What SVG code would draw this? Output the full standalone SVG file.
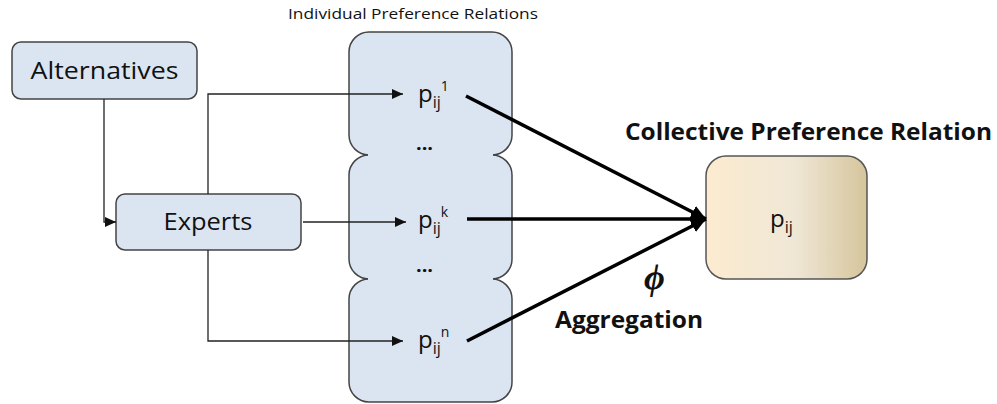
<svg xmlns="http://www.w3.org/2000/svg" width="997" height="404" viewBox="0 0 997 404">
<style>
.box{fill:#dbe5f1;stroke:#444;stroke-width:1.5}
.t{font-family:"Open Sans","Liberation Sans",sans-serif;fill:#111}
.b{font-family:"Open Sans","Liberation Sans",sans-serif;font-weight:bold;fill:#111}
.thin{fill:none;stroke:#222;stroke-width:1.3}
.thick{fill:none;stroke:#000;stroke-width:3.5}
</style>
<defs>
<marker id="a" markerUnits="userSpaceOnUse" markerWidth="12" markerHeight="10" refX="11" refY="5" orient="auto">
<path d="M0,0 L11,5 L0,10 Z" fill="#111"/>
</marker>
<marker id="A" markerUnits="userSpaceOnUse" markerWidth="16" markerHeight="14" refX="15" refY="7" orient="auto">
<path d="M0,0 L15,7 L0,14 Z" fill="#000"/>
</marker>
<linearGradient id="g" x1="0" y1="0" x2="1" y2="0">
<stop offset="0" stop-color="#fcebcf"/>
<stop offset="0.55" stop-color="#efe7d6"/>
<stop offset="1" stop-color="#d6c59c"/>
</linearGradient>
</defs>
<text class="t" x="288" y="19" font-size="14" textLength="250" lengthAdjust="spacingAndGlyphs">Individual Preference Relations</text>
<g id="alternatives">
<rect class="box" x="12" y="42" width="185" height="57" rx="9"/>
<text class="t" x="104.5" y="79" font-size="24" text-anchor="middle" textLength="148" lengthAdjust="spacingAndGlyphs">Alternatives</text>
</g>
<g id="experts">
<rect class="box" x="116" y="194" width="185" height="56" rx="9"/>
<text class="t" x="208" y="230" font-size="24" text-anchor="middle" textLength="89" lengthAdjust="spacingAndGlyphs">Experts</text>
</g>
<g id="individual">
<rect class="box" x="349" y="32" width="163" height="123" rx="20"/>
<rect class="box" x="349" y="155" width="163" height="124" rx="20"/>
<rect class="box" x="349" y="279" width="163" height="123" rx="20"/>
<rect x="368" y="146" width="125" height="18" fill="#dbe5f1"/>
<rect x="368" y="270" width="125" height="18" fill="#dbe5f1"/>
<text class="t" x="418" y="102" font-size="24">p<tspan font-size="16" dy="6">ij</tspan><tspan font-size="14" dy="-17">1</tspan></text>
<text class="t" x="416" y="150" font-size="18" font-weight="bold" textLength="17" lengthAdjust="spacingAndGlyphs">...</text>
<text class="t" x="418" y="228" font-size="24">p<tspan font-size="16" dy="6">ij</tspan><tspan font-size="14" dy="-17">k</tspan></text>
<text class="t" x="416" y="272" font-size="18" font-weight="bold" textLength="17" lengthAdjust="spacingAndGlyphs">...</text>
<text class="t" x="418" y="348" font-size="24">p<tspan font-size="16" dy="6">ij</tspan><tspan font-size="14" dy="-17">n</tspan></text>
</g>
<g id="collective">
<text class="b" x="625" y="140" font-size="23" textLength="367" lengthAdjust="spacingAndGlyphs">Collective Preference Relation</text>
<rect x="706" y="156" width="161" height="123" rx="20" fill="url(#g)" stroke="#555" stroke-width="1.5"/>
<text class="t" x="770" y="227" font-size="24">p<tspan font-size="16" dy="6">ij</tspan></text>
</g>
<g id="labels">
<text x="644" y="289" font-family="Liberation Serif,serif" font-style="italic" font-weight="bold" font-size="36" fill="#111">ϕ</text>
<text class="b" x="555" y="328" font-size="24" textLength="148" lengthAdjust="spacingAndGlyphs">Aggregation</text>
</g>
<g id="connectors">
<path class="thin" d="M104,99 V222 H116" marker-end="url(#a)"/>
<path class="thin" d="M208,194 V94 H403" marker-end="url(#a)"/>
<path class="thin" d="M303,222 H406" marker-end="url(#a)"/>
<path class="thin" d="M208,250 V341 H403" marker-end="url(#a)"/>
<path class="thick" d="M466,96 L706,219" marker-end="url(#A)"/>
<path class="thick" d="M467,219 L706,219" marker-end="url(#A)"/>
<path class="thick" d="M467,341 L706,219" marker-end="url(#A)"/>
</g>
</svg>
